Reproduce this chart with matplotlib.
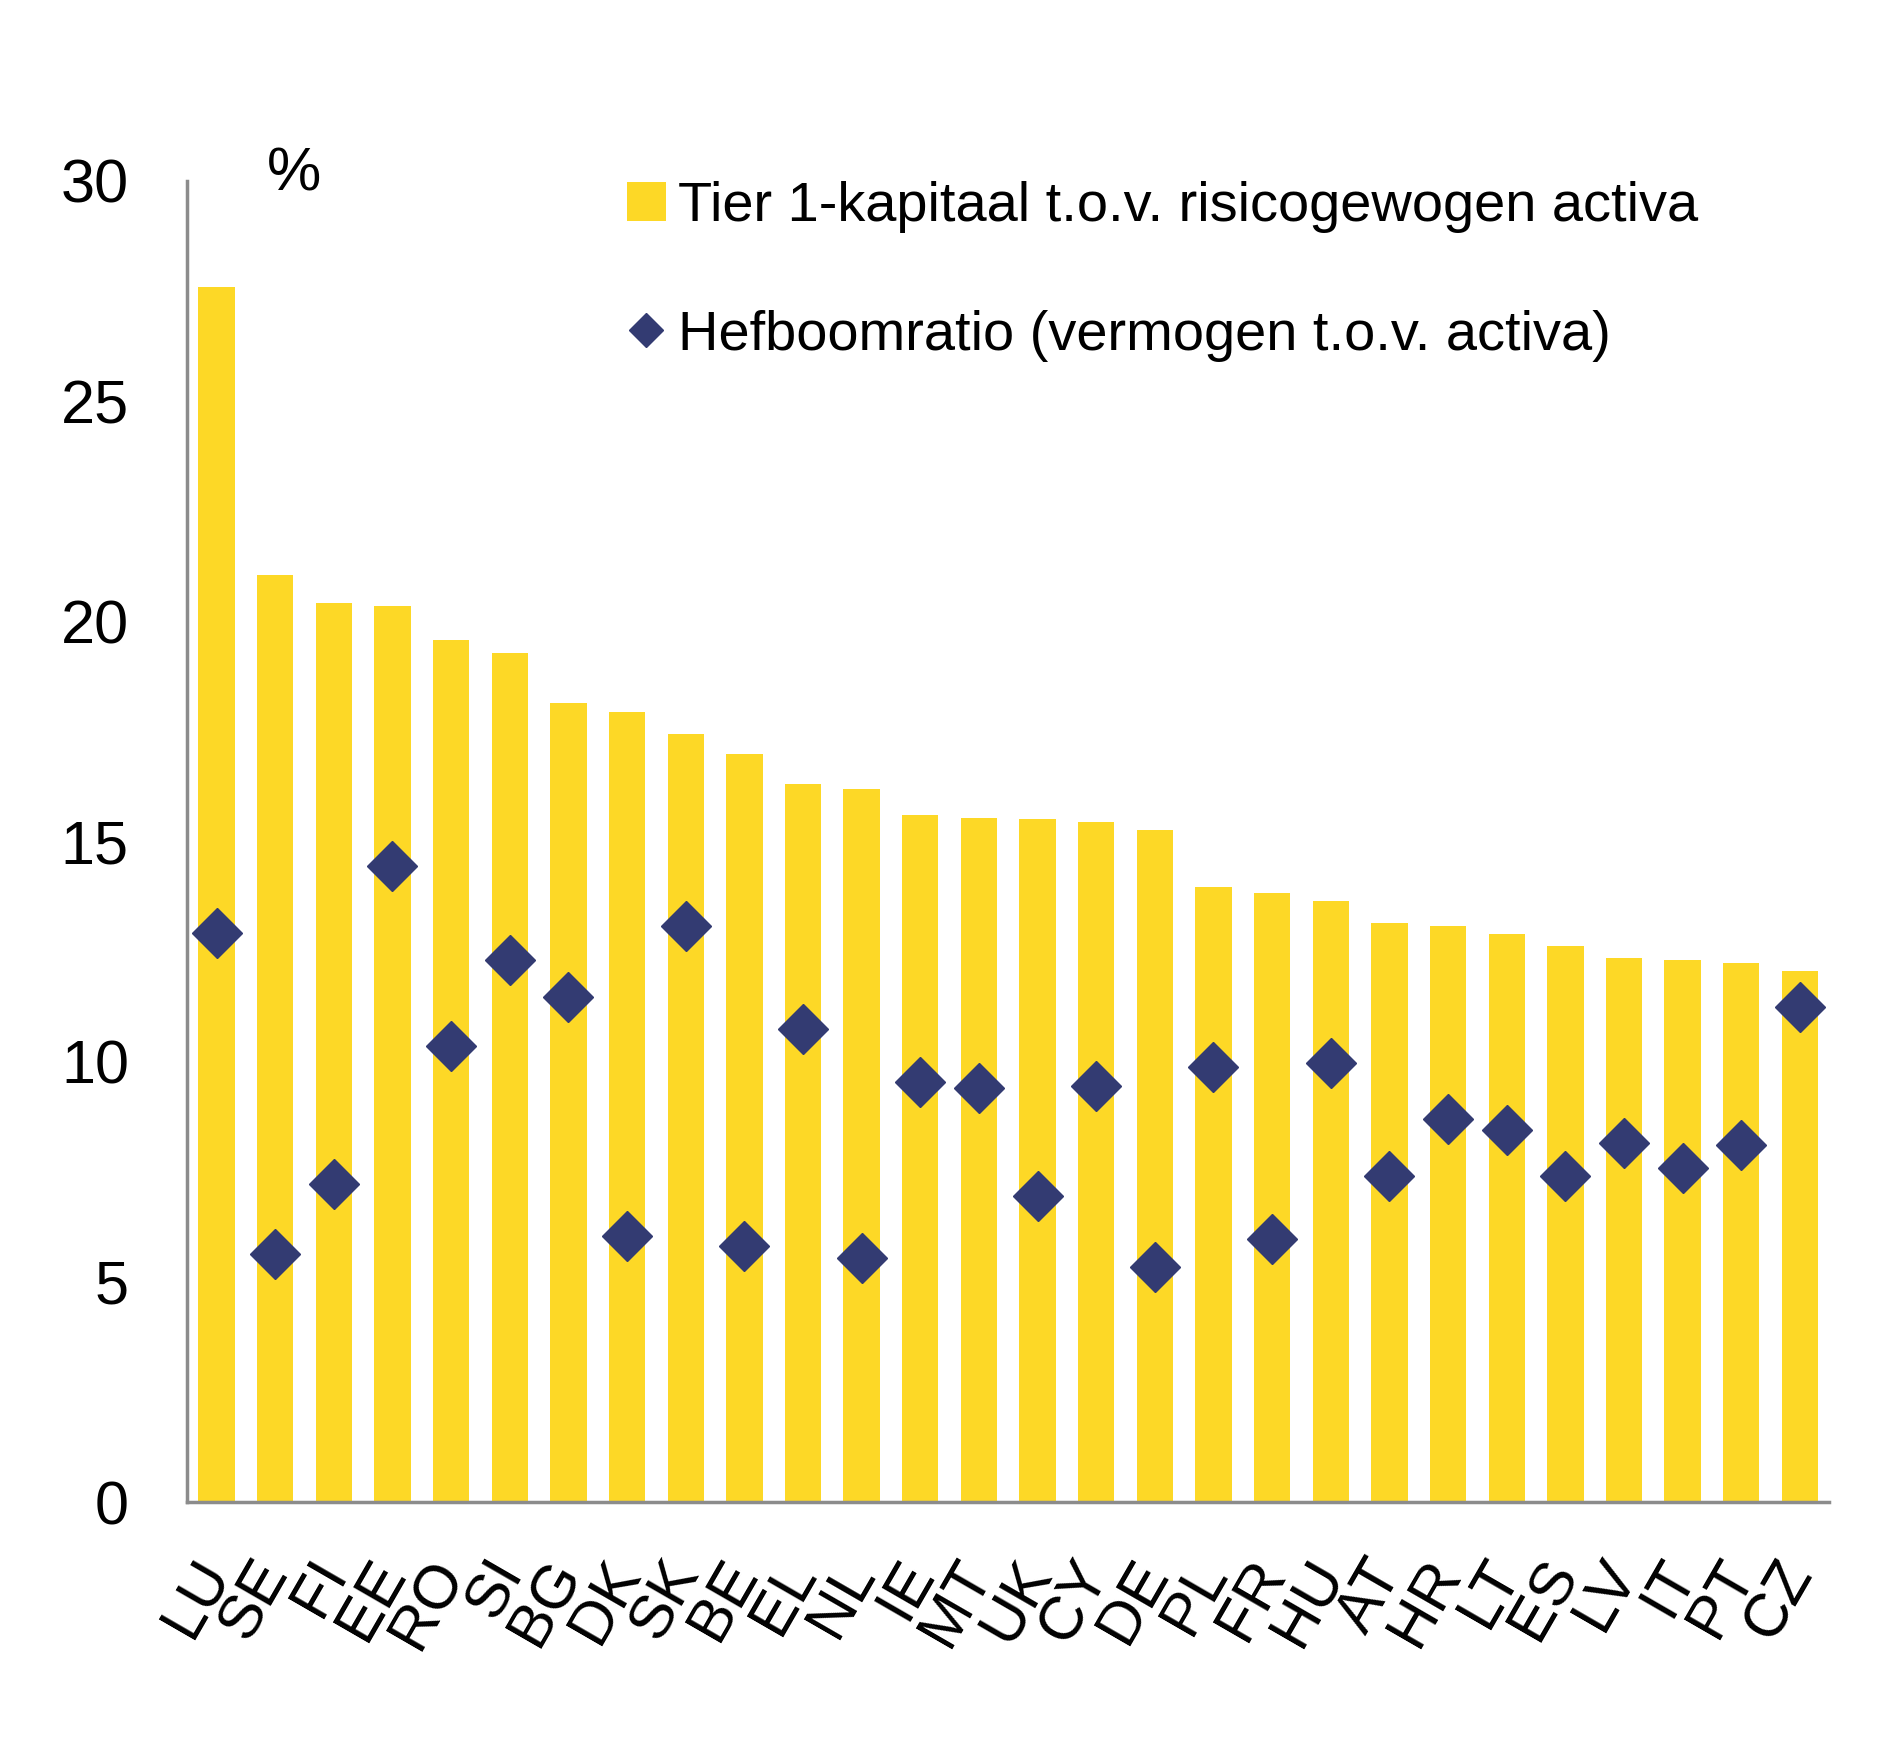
import numpy as np
import matplotlib
matplotlib.use("Agg")
import matplotlib.pyplot as plt

plt.rcParams['font.family'] = ['Liberation Sans', 'DejaVu Sans']

countries = ["LU", "SE", "FI", "EE", "RO", "SI", "BG", "DK", "SK", "BE", "EL", "NL", "IE", "MT",
             "UK", "CY", "DE", "PL", "FR", "HU", "AT", "HR", "LT", "ES", "LV", "IT", "PT", "CZ"]
tier1 = [27.6, 21.05, 20.42, 20.34, 19.57, 19.27, 18.14, 17.95, 17.43, 16.99, 16.31, 16.2, 15.59, 15.54,
         15.51, 15.45, 15.26, 13.97, 13.83, 13.64, 13.15, 13.09, 12.9, 12.63, 12.35, 12.3, 12.24, 12.05]
leverage = [12.93, 5.63, 7.22, 14.44, 10.35, 12.3, 11.47, 6.04, 13.07, 5.82, 10.73, 5.54, 9.53, 9.39,
            6.94, 9.44, 5.33, 9.88, 5.98, 9.96, 7.41, 8.7, 8.45, 7.41, 8.15, 7.58, 8.1, 11.23]

yellow = "#FDD826"
navy = "#333B72"
grey = "#8C8C8C"

fig = plt.figure(figsize=(18.95, 17.64), dpi=100)
ax = fig.add_axes([0.0988, 0.1485, 0.8665, 0.749])

x = np.arange(len(countries))
bars = ax.bar(x, tier1, width=0.62, color=yellow, zorder=2)
pts, = ax.plot(x, leverage, linestyle="none", marker="D", markersize=25, color=navy, zorder=3)

ax.set_xlim(-0.5, len(countries) - 0.5)
ax.set_ylim(0, 30)
ax.set_yticks(range(0, 31, 5))
ax.set_xticks(x)
ax.set_xticklabels(countries, rotation=60, ha="right", va="center", rotation_mode="anchor")
ax.tick_params(axis="both", length=0, labelsize=44)
ax.tick_params(axis="y", pad=42)
ax.tick_params(axis="x", pad=45)

for s in ["top", "right"]:
    ax.spines[s].set_visible(False)
for s in ["left", "bottom"]:
    ax.spines[s].set_color(grey)
    ax.spines[s].set_linewidth(2.5)

fig.text(0.155, 0.901, "%", fontsize=44, ha="center", va="center")

ax.legend([bars, pts],
          ["Tier 1-kapitaal t.o.v. risicogewogen activa", "Hefboomratio (vermogen t.o.v. activa)"],
          loc="upper left", bbox_to_anchor=(0.237, 1.038), frameon=False, fontsize=40.3,
          handlelength=0.7, handleheight=0.7, handletextpad=0.22, labelspacing=1.37,
          markerscale=0.68)

fig.savefig("out.png", dpi=100)
